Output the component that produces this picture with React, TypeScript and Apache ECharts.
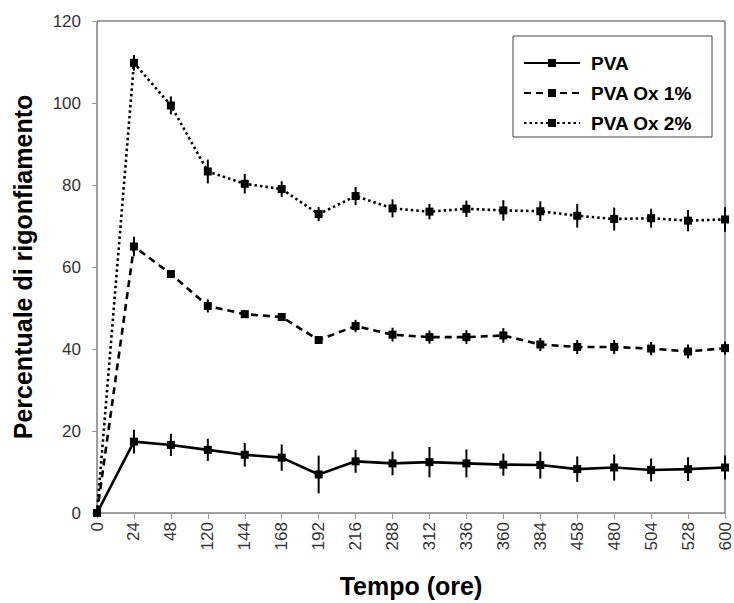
import React, { useEffect, useRef } from "react";
import * as echarts from "echarts";

const categories = ["0", "24", "48", "120", "144", "168", "192", "216", "288", "312", "336", "360", "384", "458", "480", "504", "528", "600"];
const yTicks = [0, 20, 40, 60, 80, 100, 120];

const pva = [0, 17.4, 16.6, 15.4, 14.2, 13.5, 9.4, 12.6, 12.1, 12.4, 12.1, 11.8, 11.7, 10.7, 11.1, 10.5, 10.7, 11.1];
const pvaErr = [0, 2.9, 2.7, 2.7, 2.9, 3.2, 4.6, 2.8, 2.9, 3.7, 3.4, 2.7, 3.3, 3.1, 3.2, 2.8, 2.9, 2.9];

const pvaOx1 = [0, 65.0, 58.3, 50.5, 48.5, 47.8, 42.2, 45.6, 43.5, 42.9, 42.9, 43.3, 41.1, 40.5, 40.5, 40.1, 39.4, 40.2];
const pvaOx1Err = [0, 2.4, 0.9, 1.6, 0.9, 0.5, 0.7, 1.5, 1.7, 1.6, 1.7, 1.8, 1.6, 1.7, 1.7, 1.6, 1.7, 1.6];

const pvaOx2 = [0, 109.8, 99.4, 83.3, 80.3, 79.0, 72.9, 77.3, 74.3, 73.5, 74.2, 73.8, 73.6, 72.5, 71.7, 71.9, 71.3, 71.6];
const pvaOx2Err = [0, 1.9, 2.2, 2.9, 2.4, 1.9, 1.7, 2.2, 2.2, 1.9, 2.0, 2.5, 2.4, 2.9, 2.8, 2.3, 2.6, 3.0];

const seriesNames = ["PVA", "PVA Ox 1%", "PVA Ox 2%"];

const FONT = "'Liberation Sans', Arial, sans-serif";

function errData(vals: number[], errs: number[]) {
  return vals.map((v, i) => [i, v - errs[i], v + errs[i]]);
}

function errorSeries(vals: number[], errs: number[]) {
  return {
    type: "custom",
    silent: true,
    z: 3,
    data: errData(vals, errs),
    encode: { x: 0, y: [1, 2] },
    renderItem: (params: any, api: any) => {
      const x = api.value(0);
      const p1 = api.coord([x, api.value(1)]);
      const p2 = api.coord([x, api.value(2)]);
      return {
        type: "line",
        shape: { x1: p1[0], y1: p1[1], x2: p2[0], y2: p2[1] },
        style: { stroke: "#000", lineWidth: 2 },
      };
    },
  };
}

function lineSeries(name: string, vals: number[], type: any) {
  return {
    name,
    type: "line",
    data: vals,
    symbol: "rect",
    symbolSize: 8,
    z: 4,
    itemStyle: { color: "#000" },
    lineStyle: { color: "#000", width: 2.6, type },
  };
}

export default function App() {
  const ref = useRef<HTMLDivElement>(null);
  useEffect(() => {
    if (!ref.current) return;
    const chart = echarts.init(ref.current, undefined, { renderer: "svg" });
    chart.setOption({
      animation: false,
      backgroundColor: "#fff",
      textStyle: { fontFamily: FONT },
      grid: {
        left: 97,
        right: 9,
        top: 21,
        bottom: 86,
        show: true,
        borderColor: "#444",
        borderWidth: 1,
        backgroundColor: "transparent",
      },
      legend: {
        data: seriesNames,
        orient: "vertical",
        left: 523,
        top: 53,
        padding: 0,
        itemWidth: 56,
        itemHeight: 10,
        itemGap: 10,
        textStyle: { fontFamily: FONT, fontSize: 19, fontWeight: "bold", color: "#000", lineHeight: 20, padding: [0, 0, 0, 6] },
      },
      graphic: [
        {
          type: "rect",
          shape: { x: 513, y: 36, width: 199, height: 101 },
          style: { fill: "none", stroke: "#444", lineWidth: 1 },
          z: 1,
        },
      ],
      xAxis: {
        type: "category",
        data: categories,
        boundaryGap: false,
        name: "Tempo (ore)",
        nameLocation: "middle",
        nameGap: 60,
        nameTextStyle: { fontFamily: FONT, fontSize: 25, fontWeight: "bold", color: "#000" },
        axisLine: { lineStyle: { color: "#999", width: 1 } },
        axisTick: { show: true, length: 6, alignWithLabel: true, lineStyle: { color: "#999" } },
        axisLabel: { interval: 0, rotate: 90, margin: 9, fontSize: 17, color: "#333", fontFamily: FONT },
        splitLine: { show: false },
      },
      yAxis: {
        type: "value",
        min: yTicks[0],
        max: yTicks[yTicks.length - 1],
        interval: 20,
        name: "Percentuale di rigonfiamento",
        nameLocation: "middle",
        nameGap: 62,
        nameTextStyle: { fontFamily: FONT, fontSize: 25, fontWeight: "bold", color: "#000" },
        axisLine: { show: true, lineStyle: { color: "#999", width: 1 } },
        axisTick: { show: true, length: 5, lineStyle: { color: "#999" } },
        axisLabel: { margin: 16, fontSize: 17, color: "#333", fontFamily: FONT },
        splitLine: { show: false },
      },
      series: [
        lineSeries(seriesNames[0], pva, "solid"),
        lineSeries(seriesNames[1], pvaOx1, [7, 5]),
        lineSeries(seriesNames[2], pvaOx2, [2.5, 3]),
        errorSeries(pva, pvaErr),
        errorSeries(pvaOx1, pvaOx1Err),
        errorSeries(pvaOx2, pvaOx2Err),
      ],
    });
    return () => chart.dispose();
  }, []);
  return <div ref={ref} style={{ width: 734, height: 603, position: "absolute", left: 0, top: 0 }} />;
}
